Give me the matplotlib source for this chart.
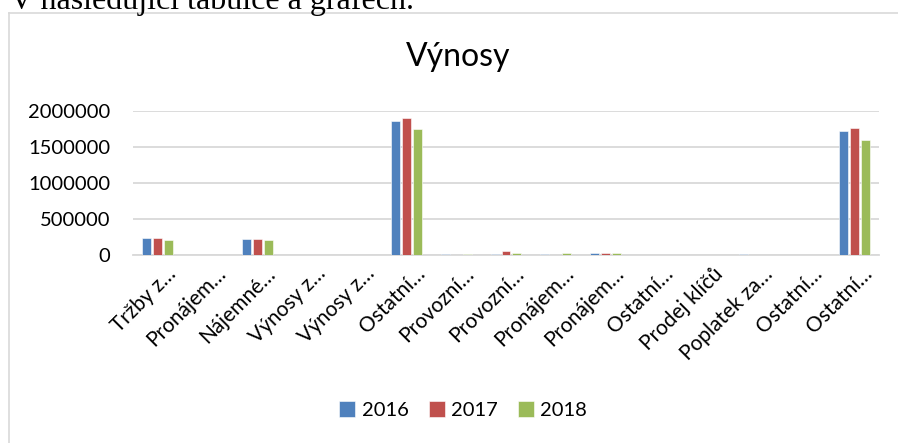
import matplotlib
matplotlib.use("Agg")
import matplotlib.pyplot as plt
import numpy as np
from matplotlib.lines import Line2D
from matplotlib.transforms import ScaledTranslation


categories = [
    "Tržby z…", "Pronájem…", "Nájemné…", "Výnosy z…", "Výnosy z…",
    "Ostatní…", "Provozní…", "Provozní…", "Pronájem…", "Pronájem…",
    "Ostatní…", "Prodej klíčů", "Poplatek za…", "Ostatní…", "Ostatní…",
]
years = ["2016", "2017", "2018"]
v2016 = [240000, 0, 228000, 0, 0, 1860000, 15000, 14000, 12000, 36000, 0, 0, 12000, 0, 1725000]
v2017 = [240000, 0, 228000, 0, 0, 1897000, 10000, 55000, 10000, 35000, 0, 0, 4000, 0, 1763000]
v2018 = [216000, 0, 208000, 0, 0, 1745000, 14000, 30000, 25000, 35000, 10000, 0, 0, 0, 1600000]
yticks = [0, 500000, 1000000, 1500000, 2000000]

COLORS = ["#4F81BD", "#C0504D", "#9BBB59"]
GRID = "#D9D9D9"

plt.rcParams["font.family"] = ["Lato", "DejaVu Sans"]

W, H = 898, 443
fig = plt.figure(figsize=(W / 100, H / 100), dpi=100)

# text line of the surrounding document, cut off at the top
fig.text(10 / W, 1 - 9 / H, "V následující tabulce a grafech.",
         family="Liberation Serif", fontsize=23, va="baseline", ha="left")

# chart frame (only left and top edges are visible)
fig.add_artist(Line2D([9 / W, 9 / W], [0, 1 - 12.5 / H], transform=fig.transFigure,
                      color=GRID, lw=1.2))
fig.add_artist(Line2D([9 / W, 1], [1 - 12.5 / H, 1 - 12.5 / H], transform=fig.transFigure,
                      color=GRID, lw=1.2))

ax = fig.add_axes([133 / W, 1 - 255.3 / H, 746 / W, 144.4 / H])

x = np.arange(len(categories))
bar_w = 0.18
step = 0.22
for i, (vals, year) in enumerate(zip([v2016, v2017, v2018], years)):
    ax.bar(x + (i - 1) * step, vals, width=bar_w, color=COLORS[i],
           edgecolor="white", linewidth=0.4, label=year, zorder=3)

ax.set_xlim(-0.5, len(categories) - 0.5)
ax.set_ylim(0, 2000000)
ax.set_yticks(yticks)
ax.set_yticklabels([str(v) for v in yticks])
ax.yaxis.grid(True, color=GRID, lw=1.3, zorder=0)
ax.set_axisbelow(True)

for side in ["left", "right", "top"]:
    ax.spines[side].set_visible(False)
ax.spines["bottom"].set_color(GRID)
ax.spines["bottom"].set_linewidth(1.3)

ax.tick_params(axis="y", length=0, pad=16.5, labelsize=14.5)
ax.tick_params(axis="x", length=0, pad=6, labelsize=15)
ax.set_xticks(x)
ax.set_xticklabels(categories, rotation=45, ha="right", va="top", rotation_mode="anchor")
shift = ScaledTranslation(8 / 100, 0, fig.dpi_scale_trans)
for lab in ax.get_xticklabels():
    lab.set_transform(lab.get_transform() + shift)

fig.text(458 / W, 1 - 66 / H, "Výnosy", fontsize=23, ha="center", va="baseline")

fig.legend(loc="center", bbox_to_anchor=(463 / W, 1 - 410 / H), ncol=3, frameon=False,
           fontsize=14.5, handlelength=0.8, handleheight=0.8, handletextpad=0.3,
           columnspacing=1.0)

fig.savefig("out.png", dpi=100)
